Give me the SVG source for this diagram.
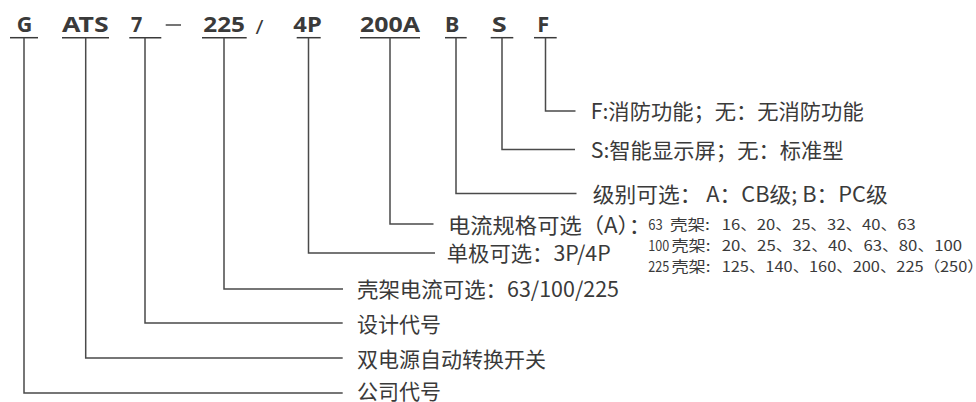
<svg xmlns="http://www.w3.org/2000/svg" width="976" height="402" viewBox="0 0 976 402">
<style>
  .code { font-family: "Noto Sans", "Liberation Sans", sans-serif; font-weight: bold; font-size: 22px; fill: #3a3a3a; }
  .sep { font-family: "Noto Sans", "Liberation Sans", sans-serif; font-size: 20px; fill: #3a3a3a; }
  .desc { font-family: "Noto Sans CJK SC", "Noto Sans", sans-serif; font-size: 21px; fill: #3a3a3a; }
  .small { font-family: "Noto Sans CJK SC", "Noto Sans", sans-serif; font-size: 14.5px; fill: #3a3a3a; }
  .ul { stroke: #3a3a3a; stroke-width: 1.5; fill: none; }
  .conn path { stroke: #4a4a4a; stroke-width: 1.5; fill: none; }
</style>

<g id="code-G"><text class="code" x="16.7" y="32" textLength="15.6" lengthAdjust="spacingAndGlyphs">G</text><line class="ul" x1="10" y1="37.7" x2="38" y2="37.7"/></g>
<g id="code-ATS"><text class="code" x="62" y="32" textLength="46.7" lengthAdjust="spacingAndGlyphs">ATS</text><line class="ul" x1="62" y1="37.7" x2="109" y2="37.7"/></g>
<g id="code-7"><text class="code" x="131" y="32" textLength="11.3" lengthAdjust="spacingAndGlyphs">7</text><line class="ul" x1="129.3" y1="37.7" x2="161.3" y2="37.7"/></g>
<g id="sep-dash"><line x1="165.7" y1="25" x2="181" y2="25" stroke="#3a3a3a" stroke-width="1.4"/></g>
<g id="code-225"><text class="code" x="203.3" y="32" textLength="41.7" lengthAdjust="spacingAndGlyphs">225</text><line class="ul" x1="202" y1="37.7" x2="246.7" y2="37.7"/></g>
<g id="sep-slash"><text class="sep" x="255.5" y="34" textLength="8" lengthAdjust="spacingAndGlyphs">/</text></g>
<g id="code-4P"><text class="code" x="293.3" y="32" textLength="28.4" lengthAdjust="spacingAndGlyphs">4P</text><line class="ul" x1="296.7" y1="37.7" x2="320.7" y2="37.7"/></g>
<g id="code-200A"><text class="code" x="360" y="32" textLength="60" lengthAdjust="spacingAndGlyphs">200A</text><line class="ul" x1="360" y1="37.7" x2="420" y2="37.7"/></g>
<g id="code-B"><text class="code" x="445" y="32" textLength="14.3" lengthAdjust="spacingAndGlyphs">B</text><line class="ul" x1="445" y1="37.7" x2="466.7" y2="37.7"/></g>
<g id="code-S"><text class="code" x="491.7" y="32" textLength="15" lengthAdjust="spacingAndGlyphs">S</text><line class="ul" x1="490.7" y1="37.7" x2="513.3" y2="37.7"/></g>
<g id="code-F"><text class="code" x="537.3" y="32" textLength="12" lengthAdjust="spacingAndGlyphs">F</text><line class="ul" x1="534" y1="37.7" x2="556.7" y2="37.7"/></g>

<g id="connectors" class="conn">
  <path d="M24 37.7 V393 H342.7"/>
  <path d="M85.7 37.7 V358 H342.7"/>
  <path d="M145 37.7 V323 H342.7"/>
  <path d="M224 37.7 V289 H343"/>
  <path d="M308.5 37.7 V253 H435"/>
  <path d="M390 37.7 V224 H433.5"/>
  <path d="M456 37.7 V193.5 H576.5"/>
  <path d="M502 37.7 V149.5 H575"/>
  <path d="M545.5 37.7 V111 H575.5"/>
</g>

<g id="desc-F"><text class="desc" x="590.7" y="118.5" textLength="273" lengthAdjust="spacingAndGlyphs">F:消防功能；无：无消防功能</text></g>
<g id="desc-S"><text class="desc" x="590.7" y="157.5" textLength="253" lengthAdjust="spacingAndGlyphs">S:智能显示屏；无：标准型</text></g>
<g id="desc-B"><text class="desc" x="592.7" y="201.5" textLength="295" lengthAdjust="spacingAndGlyphs">级别可选： A：CB级; B：PC级</text></g>
<g id="desc-200A">
  <text class="desc" x="448" y="233" textLength="203" lengthAdjust="spacingAndGlyphs">电流规格可选（A）：</text>
  <text class="small" x="648.3" y="229.8" textLength="14.5" lengthAdjust="spacingAndGlyphs">63</text>
  <text class="small" x="670" y="229.8" textLength="40" lengthAdjust="spacingAndGlyphs">壳架:</text>
  <text class="small" x="721.7" y="229.8" textLength="194" lengthAdjust="spacingAndGlyphs">16、20、25、32、40、63</text>
  <text class="small" x="648.3" y="250.5" textLength="21" lengthAdjust="spacingAndGlyphs">100</text>
  <text class="small" x="671.5" y="250.5" textLength="39" lengthAdjust="spacingAndGlyphs">壳架:</text>
  <text class="small" x="721.7" y="250.5" textLength="240.5" lengthAdjust="spacingAndGlyphs">20、25、32、40、63、80、100</text>
  <text class="small" x="648.3" y="271.5" textLength="21" lengthAdjust="spacingAndGlyphs">225</text>
  <text class="small" x="671.5" y="271.5" textLength="39" lengthAdjust="spacingAndGlyphs">壳架:</text>
  <text class="small" x="721.7" y="271.5" textLength="262" lengthAdjust="spacingAndGlyphs">125、140、160、200、225（250）</text>
</g>
<g id="desc-4P"><text class="desc" x="446.7" y="260.5" textLength="164" lengthAdjust="spacingAndGlyphs">单极可选：3P/4P</text></g>
<g id="desc-225"><text class="desc" x="357" y="296.5" textLength="262" lengthAdjust="spacingAndGlyphs">壳架电流可选：63/100/225</text></g>
<g id="desc-7"><text class="desc" x="357" y="331.5" textLength="84" lengthAdjust="spacingAndGlyphs">设计代号</text></g>
<g id="desc-ATS"><text class="desc" x="357" y="366.5" textLength="189" lengthAdjust="spacingAndGlyphs">双电源自动转换开关</text></g>
<g id="desc-G"><text class="desc" x="357" y="398.5" textLength="84" lengthAdjust="spacingAndGlyphs">公司代号</text></g>
</svg>
